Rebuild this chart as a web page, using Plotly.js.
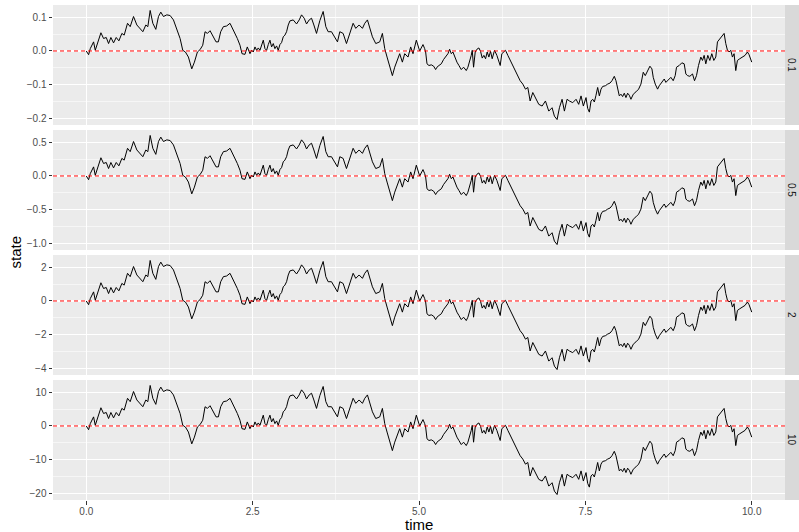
<!DOCTYPE html>
<html>
<head>
<meta charset="utf-8">
<script src="https://cdn.plot.ly/plotly-3.0.1.min.js"></script>
<style>
  html, body { margin: 0; padding: 0; background: #fff; }
  #chart { width: 799px; height: 532px; }
</style>
</head>
<body>
<div id="chart"></div>
<script>
// Sampled path of the standard process (unit scale), one value per time point
const time = [
  0.000, 0.035, 0.06, 0.11, 0.135, 0.17, 0.22, 0.26, 0.30, 0.335, 0.37, 0.41, 0.45, 0.49, 0.535, 0.57,
  0.62, 0.66, 0.71, 0.76, 0.81, 0.85, 0.895, 0.925, 0.96, 1.00, 1.045, 1.085, 1.12, 1.16, 1.21, 1.26,
  1.31, 1.36, 1.41, 1.45, 1.49, 1.535, 1.585, 1.625, 1.67, 1.71, 1.75, 1.785, 1.82, 1.86, 1.91, 1.95,
  1.985, 2.02, 2.06, 2.11, 2.16, 2.20, 2.235, 2.27, 2.31, 2.34, 2.385, 2.42,
  2.46, 2.485, 2.51, 2.535, 2.56, 2.585, 2.61, 2.635, 2.66, 2.685, 2.71, 2.735, 2.76, 2.785, 2.81, 2.835,
  2.86, 2.885, 2.91, 2.935, 2.96, 2.985, 3.01, 3.035, 3.06,
  3.11, 3.16, 3.20, 3.235, 3.275, 3.31, 3.35, 3.385, 3.42, 3.46, 3.51, 3.56, 3.60, 3.635, 3.685, 3.735,
  3.775, 3.81, 3.86, 3.91, 3.96, 4.01, 4.05, 4.10, 4.15, 4.185, 4.225, 4.26, 4.30, 4.35, 4.41, 4.45,
  4.485, 4.52, 4.56, 4.60, 4.635, 4.67, 4.71, 4.75, 4.785, 4.835, 4.875, 4.91, 4.96,
  5.01, 5.035, 5.06, 5.085, 5.10, 5.12, 5.15, 5.185, 5.22, 5.25, 5.27, 5.30, 5.335, 5.37, 5.40, 5.435,
  5.46, 5.485, 5.51, 5.535, 5.57, 5.60, 5.635, 5.67, 5.71, 5.735, 5.76, 5.785, 5.80, 5.82, 5.845, 5.87,
  5.90, 5.925, 5.95, 5.975, 6.00, 6.025, 6.05, 6.075, 6.10, 6.135, 6.17, 6.20, 6.22, 6.245, 6.27, 6.30,
  6.335, 6.37, 6.41, 6.45, 6.485, 6.52, 6.56, 6.60, 6.635, 6.67,
  6.71, 6.75, 6.80, 6.85, 6.90, 6.95, 7.00, 7.035, 7.075, 7.11, 7.15, 7.185, 7.225, 7.26, 7.31, 7.36,
  7.40, 7.435, 7.47, 7.51, 7.535,
  7.56, 7.585, 7.61, 7.635, 7.66, 7.685, 7.71, 7.735, 7.76, 7.80, 7.835, 7.87, 7.90, 7.935, 7.96, 7.985,
  8.01, 8.035, 8.06, 8.085, 8.11, 8.135, 8.16, 8.185, 8.22, 8.26, 8.30, 8.335, 8.37, 8.40, 8.435, 8.47,
  8.50, 8.52, 8.55, 8.585, 8.61, 8.65, 8.685, 8.71, 8.75, 8.785, 8.82, 8.85, 8.87, 8.91, 8.95, 8.985,
  9.01, 9.035, 9.07, 9.11, 9.14, 9.17, 9.20, 9.235, 9.26, 9.285, 9.31, 9.34, 9.37, 9.40, 9.43, 9.46,
  9.485, 9.52, 9.55, 9.585, 9.61, 9.635, 9.66, 9.685, 9.71, 9.735, 9.76, 9.785, 9.82, 9.86, 9.90, 9.935,
  9.96, 10.00
];
const path = [
  0.00, -0.11, 0.07, 0.27, 0.02, 0.22, 0.54, 0.37, 0.40, 0.22, 0.40, 0.24, 0.40, 0.30, 0.52, 0.47,
  0.82, 0.72, 1.02, 0.77, 0.67, 0.57, 0.77, 0.72, 1.20, 0.82, 0.64, 1.02, 1.15, 1.02, 1.07, 1.05,
  0.92, 0.62, 0.37, 0.02, -0.03, -0.18, -0.53, -0.33, -0.03, 0.04, 0.17, 0.57, 0.52, 0.60, 0.42, 0.27,
  0.27, 0.57, 0.72, 0.74, 0.82, 0.67, 0.52, 0.37, 0.17, -0.08, -0.10, 0.12,
  -0.08, 0.02, -0.03, 0.12, 0.02, 0.09, 0.02, 0.19, 0.32, 0.07, 0.02, 0.19, 0.32, 0.12, 0.22, 0.07,
  0.15, 0.02, 0.19, 0.25, 0.42, 0.47, 0.57, 0.77, 0.89,
  0.92, 0.80, 0.92, 1.07, 0.97, 0.80, 0.92, 0.97, 0.77, 0.52, 0.90, 1.17, 0.72, 0.57, 0.57, 0.42,
  0.27, 0.57, 0.52, 0.22, 0.52, 0.82, 0.67, 0.77, 0.67, 0.82, 0.92, 0.67, 0.42, 0.22, 0.27, 0.52,
  0.07, -0.18, -0.43, -0.73, -0.48, -0.28, -0.08, -0.33, -0.08, -0.18, 0.12, -0.08, 0.32,
  0.00, 0.12, 0.19, 0.07, -0.03, -0.38, -0.43, -0.41, -0.45, -0.55, -0.48, -0.43, -0.38, -0.25, -0.18, -0.08,
  0.05, -0.08, -0.03, -0.18, -0.33, -0.43, -0.55, -0.48, -0.58, -0.48, -0.33, -0.13, 0.02, -0.48, -0.03, 0.05,
  0.09, -0.01, -0.21, -0.13, -0.23, -0.03, -0.18, -0.01, -0.23, 0.02, -0.13, -0.28, -0.43, -0.08, -0.03, 0.02,
  -0.13, -0.28, -0.43, -0.63, -0.78, -0.88, -0.98, -1.13, -1.08, -1.48,
  -1.23, -1.38, -1.58, -1.63, -1.48, -1.78, -1.68, -1.93, -2.03, -1.68, -1.43, -1.78, -1.43, -1.48, -1.53, -1.43,
  -1.58, -1.33, -1.63, -1.38, -1.70,
  -1.81, -1.48, -1.43, -1.51, -1.31, -1.08, -1.33, -1.13, -1.05, -1.03, -0.98, -0.95, -0.88, -0.75, -0.88, -1.08,
  -1.33, -1.28, -1.35, -1.25, -1.38, -1.25, -1.31, -1.43, -1.28, -1.21, -1.13, -0.98, -0.63, -0.73, -0.58, -0.45,
  -0.53, -0.78, -0.98, -1.13, -1.03, -0.93, -0.83, -0.93, -0.85, -0.78, -0.88, -0.73, -0.48, -0.43, -0.35, -0.38,
  -0.68, -0.73, -0.75, -0.68, -0.88, -0.73, -0.43, -0.18, -0.28, -0.13, -0.38, -0.13, -0.28, -0.08, -0.28, -0.18,
  0.27, 0.37, 0.42, 0.52, 0.22, 0.02, -0.03, 0.02, -0.18, -0.08, -0.58, -0.28, -0.23, -0.18, -0.13, -0.03,
  -0.11, -0.33
];

// Facet scale values (one panel each) and their axis settings
const sigma = [0.1, 0.5, 2, 10];
const stripLabels = ['0.1', '0.5', '2', '10'];
const yTickStep = [0.1, 0.5, 2, 10];
const yTickFormat = ['.1f', '.1f', 'd', 'd'];
const xTickVals = [0, 2.5, 5, 7.5, 10];
const xTickText = ['0.0', '2.5', '5.0', '7.5', '10.0'];

const W = 799, H = 532;
const M = { l: 53, r: 14, t: 5, b: 32 };
const plotH = H - M.t - M.b;      // 495
const panelH = 120, gap = 5;
const plotW = W - M.l - M.r;      // 732

const font = 'Liberation Sans, Arial, Helvetica, sans-serif';
const traces = [];
const shapes = [];
const annotations = [];
const layout = {
  width: W, height: H,
  margin: M,
  paper_bgcolor: '#FFFFFF',
  plot_bgcolor: '#EBEBEB',
  showlegend: false,
  font: { family: font, color: '#4D4D4D', size: 10 },
};

function expand(lo, hi) {
  const d = (hi - lo) * 0.05;
  return [lo - d, hi + d];
}

sigma.forEach((s, i) => {
  const k = i + 1;
  const xa = 'x' + (k === 1 ? '' : k);
  const ya = 'y' + (k === 1 ? '' : k);
  const ys = path.map(v => v * s);
  traces.push({
    x: time, y: ys, xaxis: xa, yaxis: ya,
    type: 'scatter', mode: 'lines',
    line: { color: '#000000', width: 1 },
    hoverinfo: 'skip'
  });

  const topPx = i * (panelH + gap);
  const domTop = 1 - topPx / plotH;
  const domBot = 1 - (topPx + panelH) / plotH;
  const isBottom = i === sigma.length - 1;

  layout['xaxis' + (k === 1 ? '' : k)] = {
    domain: [0, 1],
    anchor: ya,
    range: expand(0, 10),
    tickvals: xTickVals,
    ticktext: xTickText,
    showticklabels: isBottom,
    ticks: isBottom ? 'outside' : '',
    ticklen: 3.5, tickwidth: 1, tickcolor: '#333333',
    ticklabelstandoff: -2,
    tickfont: { size: 10, color: '#4D4D4D', family: font },
    showgrid: true, gridcolor: '#FFFFFF', gridwidth: 1.2,
    minor: { dtick: 1.25, tick0: 1.25, showgrid: true, gridcolor: '#FFFFFF', gridwidth: 0.55 },
    zeroline: false, showline: false
  };

  const yr = expand(Math.min(...ys), Math.max(...ys));
  layout['yaxis' + (k === 1 ? '' : k)] = {
    domain: [domBot, domTop],
    anchor: xa,
    range: yr,
    dtick: yTickStep[i], tick0: 0,
    tickformat: yTickFormat[i],
    ticks: 'outside', ticklen: 3.5, tickwidth: 1, tickcolor: '#333333',
    tickfont: { size: 10, color: '#4D4D4D', family: font },
    showgrid: true, gridcolor: '#FFFFFF', gridwidth: 1.2,
    minor: { dtick: yTickStep[i] / 2, tick0: yTickStep[i] / 2, showgrid: true, gridcolor: '#FFFFFF', gridwidth: 0.55 },
    zeroline: false, showline: false
  };

  // dashed reference line at zero
  shapes.push({
    type: 'line', xref: xa + ' domain', yref: ya,
    x0: 0, x1: 1, y0: 0, y1: 0,
    line: { color: '#FF0000', width: 1, dash: '4px,3px' },
    layer: 'above'
  });

  // facet strip on the right
  const sx0 = 1, sx1 = 1 + 14 / plotW;
  shapes.push({
    type: 'rect', xref: 'paper', yref: 'paper',
    x0: sx0, x1: sx1, y0: domBot, y1: domTop,
    fillcolor: '#D9D9D9', line: { width: 0 }, layer: 'below'
  });
  annotations.push({
    xref: 'paper', yref: 'paper',
    x: (sx0 + sx1) / 2, y: (domBot + domTop) / 2,
    text: stripLabels[i], textangle: 90, showarrow: false,
    font: { size: 10, color: '#1A1A1A', family: font },
    xanchor: 'center', yanchor: 'middle'
  });
});

// axis titles
annotations.push({
  xref: 'paper', yref: 'paper',
  x: -38 / plotW, y: 0.5,
  text: 'state', textangle: -90, showarrow: false,
  font: { size: 15, color: '#000000', family: font },
  xanchor: 'center', yanchor: 'middle'
});
annotations.push({
  xref: 'paper', yref: 'paper',
  x: 0.5, y: -24 / plotH,
  text: 'time', showarrow: false,
  font: { size: 15, color: '#000000', family: font },
  xanchor: 'center', yanchor: 'middle'
});

layout.shapes = shapes;
layout.annotations = annotations;

Plotly.newPlot('chart', traces, layout, { displayModeBar: false, staticPlot: true });
</script>
</body>
</html>
